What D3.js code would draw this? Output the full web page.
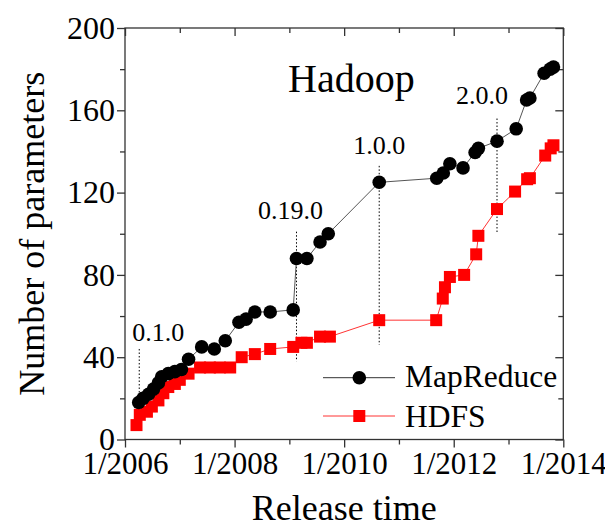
<!DOCTYPE html>
<html>
<head>
<meta charset="utf-8">
<script src="https://cdn.jsdelivr.net/npm/d3@7/dist/d3.min.js"></script>
<style>
  html, body { margin: 0; padding: 0; background: #fff; }
  svg { display: block; }
  text { font-family: "Liberation Serif", "Times New Roman", serif; fill: #000; }
</style>
</head>
<body>
<svg id="chart" width="605" height="532"></svg>
<script>
// ---- data (release time as decimal year, number of parameters) ----
const mapreduceTime = [2006.25, 2006.33, 2006.43, 2006.52, 2006.61, 2006.67, 2006.79, 2006.91, 2007.03, 2007.16,
  2007.40, 2007.63, 2007.83, 2008.08, 2008.21, 2008.37, 2008.65, 2009.07, 2009.13, 2009.32,
  2009.56, 2009.71, 2010.64, 2011.69, 2011.81, 2011.93, 2012.17, 2012.39, 2012.45, 2012.79,
  2013.14, 2013.33, 2013.39, 2013.65, 2013.76, 2013.82];
const mapreduceParams = [18, 20, 22, 24.5, 27.5, 30.5, 32, 33, 34, 39,
  45, 44, 48, 57, 58.5, 62, 62, 63, 88, 88,
  96, 100, 125, 127, 129.5, 134, 132, 139.5, 141.5, 145,
  151, 165, 166, 178, 180, 181];

const hdfsTime = [2006.21, 2006.27, 2006.40, 2006.49, 2006.61, 2006.70, 2006.79, 2006.91, 2007.00, 2007.16,
  2007.37, 2007.55, 2007.73, 2007.92, 2008.13, 2008.37, 2008.65, 2009.07, 2009.22, 2009.32,
  2009.56, 2009.74, 2010.64, 2011.68, 2011.80, 2011.84, 2011.93, 2012.19, 2012.41, 2012.45,
  2012.79, 2013.12, 2013.34, 2013.39, 2013.67, 2013.77, 2013.82];
const hdfsParams = [7, 12, 13.5, 16, 19, 22.5, 25.5, 27, 29, 32,
  35, 35, 35, 35, 40, 41.5, 44, 45, 47, 47,
  50, 50, 58, 58, 68.5, 74, 79, 80, 90, 99,
  112, 120.5, 126.5, 127, 138, 141.5, 143];

// major version markers
const versionLabels = ["0.1.0", "0.19.0", "1.0.0", "2.0.0"];
const versionTime = [2006.26, 2009.13, 2010.64, 2012.79];
const versionLineTop = [44, 101, 133, 156];
const versionLineBottom = [5, 38, 46, 100];
const versionLabelY = [48, 107, 139, 163];

const xTicks = [2006, 2008, 2010, 2012, 2014];
const xMinorTicks = [2007, 2009, 2011, 2013];
const yTicks = [0, 40, 80, 120, 160, 200];
const yMinorTicks = [20, 60, 100, 140, 180];

const seriesNames = ["MapReduce", "HDFS"];

// ---- layout ----
const svg = d3.select("#chart");
const L = 125, R = 563.3, T = 28, B = 439.5;
const x = d3.scaleLinear().domain([2006, 2014]).range([L, R]);
const y = d3.scaleLinear().domain([0, 200]).range([B, T]);

const axisColor = "#333";

// frame
svg.append("rect").attr("x", L).attr("y", T).attr("width", R - L).attr("height", B - T)
  .attr("fill", "none").attr("stroke", axisColor).attr("stroke-width", 1.3);

// bottom axis
const gx = svg.append("g").attr("transform", `translate(0,${B})`)
  .call(d3.axisBottom(x).tickValues(xTicks).tickSize(8).tickPadding(4).tickFormat(d => "1/" + d));
gx.select(".domain").remove();
gx.selectAll("line").attr("stroke", axisColor).attr("stroke-width", 1.3);
gx.selectAll("text").style("font-size", "31px").style("font-family", "Liberation Serif, serif");
svg.append("g").attr("transform", `translate(0,${B})`)
  .call(d3.axisBottom(x).tickValues(xMinorTicks).tickSize(5).tickFormat(""))
  .call(g => g.select(".domain").remove())
  .selectAll("line").attr("stroke", axisColor).attr("stroke-width", 1.3);

// top axis (inward)
svg.append("g").attr("transform", `translate(0,${T})`)
  .call(d3.axisBottom(x).tickValues(xTicks).tickSize(8).tickFormat(""))
  .call(g => g.select(".domain").remove())
  .selectAll("line").attr("stroke", axisColor).attr("stroke-width", 1.3);
svg.append("g").attr("transform", `translate(0,${T})`)
  .call(d3.axisBottom(x).tickValues(xMinorTicks).tickSize(5).tickFormat(""))
  .call(g => g.select(".domain").remove())
  .selectAll("line").attr("stroke", axisColor).attr("stroke-width", 1.3);

// left axis
const gy = svg.append("g").attr("transform", `translate(${L},0)`)
  .call(d3.axisLeft(y).tickValues(yTicks).tickSize(8).tickPadding(2));
gy.select(".domain").remove();
gy.selectAll("line").attr("stroke", axisColor).attr("stroke-width", 1.3);
gy.selectAll("text").style("font-size", "32px").style("font-family", "Liberation Serif, serif");
svg.append("g").attr("transform", `translate(${L},0)`)
  .call(d3.axisLeft(y).tickValues(yMinorTicks).tickSize(5).tickFormat(""))
  .call(g => g.select(".domain").remove())
  .selectAll("line").attr("stroke", axisColor).attr("stroke-width", 1.3);

// right axis (inward)
svg.append("g").attr("transform", `translate(${R},0)`)
  .call(d3.axisLeft(y).tickValues(yTicks).tickSize(8).tickFormat(""))
  .call(g => g.select(".domain").remove())
  .selectAll("line").attr("stroke", axisColor).attr("stroke-width", 1.3);
svg.append("g").attr("transform", `translate(${R},0)`)
  .call(d3.axisLeft(y).tickValues(yMinorTicks).tickSize(5).tickFormat(""))
  .call(g => g.select(".domain").remove())
  .selectAll("line").attr("stroke", axisColor).attr("stroke-width", 1.3);

// axis titles
svg.append("text").attr("x", (L + R) / 2).attr("y", 520).attr("text-anchor", "middle")
  .style("font-size", "36px").text("Release time");
svg.append("text").attr("transform", `translate(44,${(T + B) / 2}) rotate(-90)`)
  .attr("text-anchor", "middle").style("font-size", "36px").text("Number of parameters");

// chart title
svg.append("text").attr("x", 288).attr("y", 92).style("font-size", "40px").text("Hadoop");

// version markers
versionLabels.forEach((lab, i) => {
  svg.append("line")
    .attr("x1", x(versionTime[i])).attr("x2", x(versionTime[i]))
    .attr("y1", y(versionLineTop[i])).attr("y2", y(versionLineBottom[i]))
    .attr("stroke", "#000").attr("stroke-width", 1).attr("stroke-dasharray", "1.5,2");
  svg.append("text").attr("x", i === 0 ? x(versionTime[i]) + 19 : x(versionTime[i]) - (i === 1 ? 6 : (i === 3 ? 15 : 0)))
    .attr("y", y(versionLabelY[i])).attr("text-anchor", "middle")
    .style("font-size", "26px").text(lab);
});

// series
const mr = mapreduceTime.map((t, i) => [t, mapreduceParams[i]]);
const hd = hdfsTime.map((t, i) => [t, hdfsParams[i]]);
const line = d3.line().x(d => x(d[0])).y(d => y(d[1]));

svg.append("path").datum(hd).attr("d", line).attr("fill", "none")
  .attr("stroke", "#ff3333").attr("stroke-width", 1);
svg.append("g").selectAll("rect").data(hd).join("rect")
  .attr("x", d => x(d[0]) - 6).attr("y", d => y(d[1]) - 6)
  .attr("width", 12).attr("height", 12).attr("fill", "#ff0000");

svg.append("path").datum(mr).attr("d", line).attr("fill", "none")
  .attr("stroke", "#555").attr("stroke-width", 1);
svg.append("g").selectAll("circle").data(mr).join("circle")
  .attr("cx", d => x(d[0])).attr("cy", d => y(d[1])).attr("r", 6.8).attr("fill", "#000");

// legend
const lg = svg.append("g");
lg.append("line").attr("x1", 323).attr("x2", 395).attr("y1", 377.7).attr("y2", 377.7)
  .attr("stroke", "#333").attr("stroke-width", 1);
lg.append("circle").attr("cx", 359.3).attr("cy", 377.7).attr("r", 6.8).attr("fill", "#000");
lg.append("text").attr("x", 405).attr("y", 387).style("font-size", "31.5px").text(seriesNames[0]);
lg.append("line").attr("x1", 323).attr("x2", 395).attr("y1", 416).attr("y2", 416)
  .attr("stroke", "#ff3333").attr("stroke-width", 1);
lg.append("rect").attr("x", 353.3).attr("y", 410).attr("width", 12).attr("height", 12).attr("fill", "#ff0000");
lg.append("text").attr("x", 405).attr("y", 427).style("font-size", "31.5px").text(seriesNames[1]);
</script>
</body>
</html>
